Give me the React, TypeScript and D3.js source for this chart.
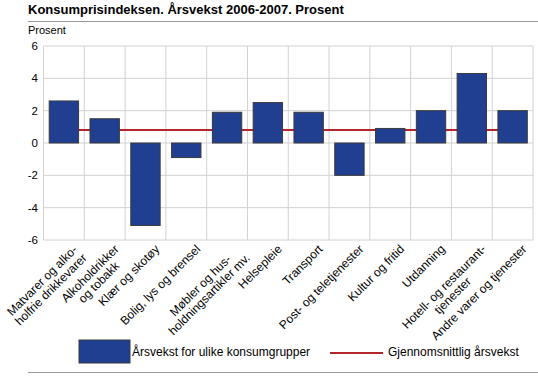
import React from "react";
import * as d3 from "d3";

const categories: string[][] = [
  ["Matvarer og alko-", "holfrie drikkevarer"],
  ["Alkoholdrikker", "og tobakk"],
  ["Klær og skotøy"],
  ["Bolig, lys og brensel"],
  ["Møbler og hus-", "holdningsartikler mv."],
  ["Helsepleie"],
  ["Transport"],
  ["Post- og teletjenester"],
  ["Kultur og fritid"],
  ["Utdanning"],
  ["Hotell- og restaurant-", "tjenester"],
  ["Andre varer og tjenester"],
];
const values: number[] = [2.6, 1.5, -5.1, -0.9, 1.9, 2.5, 1.9, -2.0, 0.9, 2.0, 4.3, 2.0];
const average = 0.8;
const yTicks: number[] = [-6, -4, -2, 0, 2, 4, 6];
const title = "Konsumprisindeksen. Årsvekst 2006-2007. Prosent";
const yLabel = "Prosent";
const legendBar = "Årsvekst for ulike konsumgrupper";
const legendLine = "Gjennomsnittlig årsvekst";

const FONT = "'Liberation Sans', Arial, sans-serif";

let ctx: CanvasRenderingContext2D | null = null;
function measure(t: string, size: number) {
  if (!ctx) ctx = document.createElement("canvas").getContext("2d");
  if (!ctx) return t.length * size * 0.5;
  ctx.font = `${size}px 'Liberation Sans', Arial, sans-serif`;
  return ctx.measureText(t).width;
}

export default function App() {
  const W = 538, H = 376;
  const left = 43.5, right = 533, top = 46, bottom = 240;
  const x = d3.scaleBand<number>().domain(d3.range(categories.length)).range([left, right]).paddingInner(0.28).paddingOuter(0.14);
  const xb = d3.scaleBand<number>().domain(d3.range(categories.length)).range([left, right]);
  const y = d3.scaleLinear().domain([-6, 6]).range([bottom, top]);
  const grid = "#d2d2d2";
  const blue = "#213f91";
  const red = "#b3262c";
  const fs = 12;
  const lh = 12.5;
  const c0 = (xb(0) as number) + xb.bandwidth() / 2;
  const cN = (xb(categories.length - 1) as number) + xb.bandwidth() / 2;

  return (
    <svg width={W} height={H} style={{ position: "absolute", left: 0, top: 0, fontFamily: FONT }}>
      <rect width={W} height={H} fill="#fff" />
      <text x={28} y={14} fontSize={13} fontWeight="bold" fill="#000">{title}</text>
      <line x1={28} x2={W} y1={21.5} y2={21.5} stroke="#999" />
      <text x={28} y={34} fontSize={11} fill="#000">{yLabel}</text>

      {yTicks.map((t) => (
        <g key={t}>
          <line x1={left} x2={right} y1={y(t)} y2={y(t)} stroke={grid} />
          <text x={38} y={y(t)} dy="0.36em" textAnchor="end" fontSize={11.5} fill="#000">{t}</text>
        </g>
      ))}
      {d3.range(categories.length + 1).map((i) => {
        const gx = i < categories.length ? (xb(i) as number) : right;
        return <line key={i} x1={gx} x2={gx} y1={top} y2={bottom} stroke={grid} />;
      })}

      <line x1={c0} x2={cN} y1={y(average)} y2={y(average)} stroke={red} strokeWidth={2} />

      {values.map((v, i) => (
        <rect key={i} x={x(i)} width={x.bandwidth()} y={y(Math.max(0, v))} height={Math.abs(y(v) - y(0))}
          fill={blue} stroke="#3a3a3a" strokeWidth={1} />
      ))}

      {categories.map((lines, i) => {
        const cx = (xb(i) as number) + xb.bandwidth() / 2;
        const ws = lines.map((l) => measure(l, fs));
        const mw = Math.max(...ws);
        return (
          <g key={i} transform={`translate(${cx + 8},${bottom + 3}) rotate(-45)`}>
            {lines.map((l, j) => (
              <text key={j} x={-(mw - ws[j]) / 2} y={j * lh} dy="0.8em" textAnchor="end" fontSize={fs} fill="#000">{l}</text>
            ))}
          </g>
        );
      })}

      <rect x={79} y={340} width={51} height={23} fill={blue} stroke="#3a3a3a" />
      <text x={132} y={356} fontSize={fs} fill="#000">{legendBar}</text>
      <line x1={330} x2={383} y1={353} y2={353} stroke={red} strokeWidth={2} />
      <text x={388} y={356} fontSize={fs} fill="#000">{legendLine}</text>
      <line x1={28} x2={W} y1={372.5} y2={372.5} stroke="#999" />
    </svg>
  );
}
